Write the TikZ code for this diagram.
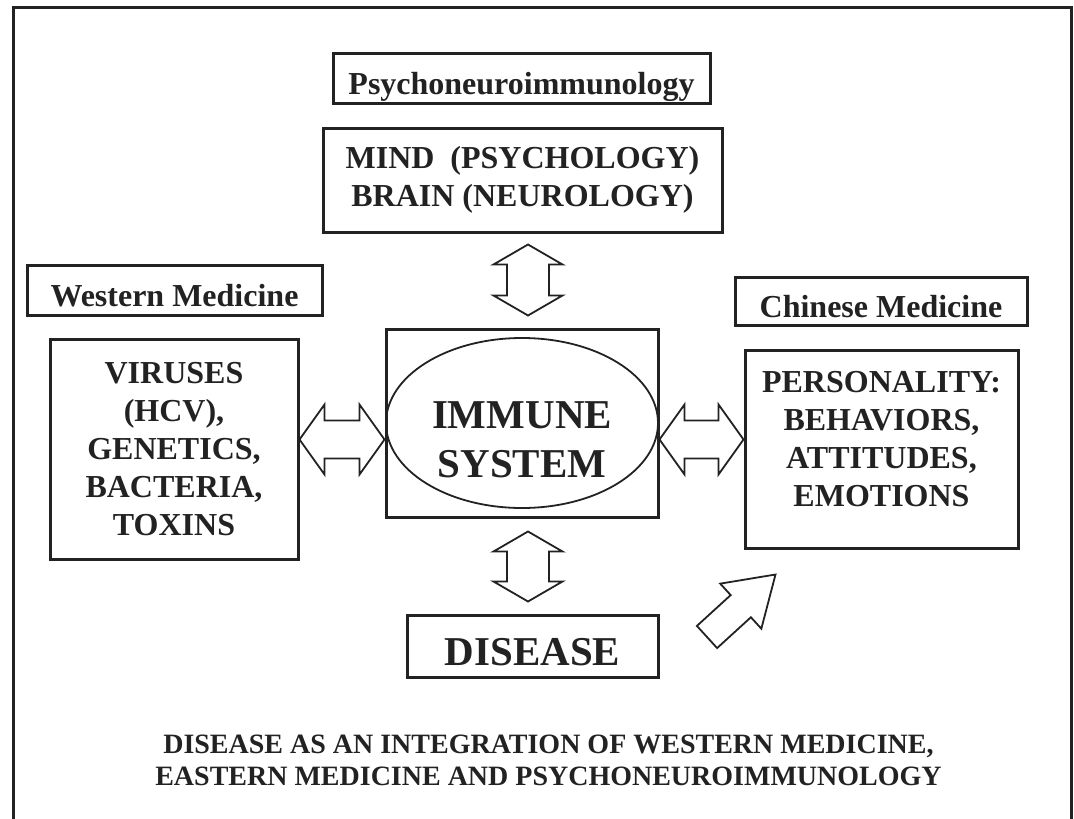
\documentclass[tikz,border=0pt]{standalone}
\usepackage{fontspec}
\setmainfont{Liberation Serif}
\usepackage{xcolor}
\usetikzlibrary{calc,shapes.geometric}

\definecolor{ink}{RGB}{34,34,34}

\begin{document}
\begin{tikzpicture}[
		x=1pt, y=-1pt,
		every node/.style={
			align=center,
			text=ink,
			inner sep=0pt
		},
		box/.style={draw=ink, line width=3pt},
		tag/.style={box, font=\fontsize{32}{37}\selectfont\bfseries, text height=32pt, text depth=0pt},
		list/.style={box, font=\fontsize{32}{38}\selectfont\bfseries},
		big/.style={font=\fontsize{41}{49}\selectfont\bfseries},
		outline/.style={draw=ink, line width=1.8pt, fill=white, line join=miter},
		hollow/.style n args={3}{to path={
			-- ($(\tikztostart)!#1!(\tikztotarget)!#2!90:(\tikztotarget)$)
			-- ($(\tikztostart)!#1!(\tikztotarget)!#3!90:(\tikztotarget)$)
			-- ($(\tikztotarget)!#1!(\tikztostart)!#3!-90:(\tikztostart)$)
			-- ($(\tikztotarget)!#1!(\tikztostart)!#2!-90:(\tikztostart)$)
			-- (\tikztotarget)
			-- ($(\tikztotarget)!#1!(\tikztostart)!#2!90:(\tikztostart)$)
			-- ($(\tikztotarget)!#1!(\tikztostart)!#3!90:(\tikztostart)$)
			-- ($(\tikztostart)!#1!(\tikztotarget)!#3!-90:(\tikztotarget)$)
			-- ($(\tikztostart)!#1!(\tikztotarget)!#2!-90:(\tikztotarget)$)
			-- cycle}},
		hollowone/.style n args={3}{to path={
			-- ($(\tikztostart)!#3!90:(\tikztotarget)$)
			-- ($(\tikztotarget)!#1!(\tikztostart)!#3!-90:(\tikztostart)$)
			-- ($(\tikztotarget)!#1!(\tikztostart)!#2!-90:(\tikztostart)$)
			-- (\tikztotarget)
			-- ($(\tikztotarget)!#1!(\tikztostart)!#2!90:(\tikztostart)$)
			-- ($(\tikztotarget)!#1!(\tikztostart)!#3!90:(\tikztostart)$)
			-- ($(\tikztostart)!#3!-90:(\tikztotarget)$)
			-- cycle}}
		]
		
		\useasboundingbox (0,0) rectangle (1074,819);
		\draw[ink, line width=3pt] (13,819) -- (13,7) -- (1071,7) -- (1071,819);
		
		\node[tag, minimum width=377pt, minimum height=50pt] (pni) at (521.5,78) {Psychoneuroimmunology};
		\node[list, minimum width=399pt, minimum height=104pt] (mind) at (522.5,180) {MIND\ \ (PSYCHOLOGY)\\BRAIN (NEUROLOGY)};
		\node[tag, minimum width=295pt, minimum height=50pt] (westtag) at (174.5,290) {Western Medicine};
		\node[list, minimum width=248pt, minimum height=220pt] (west) at (174,449) {VIRUSES\\(HCV),\\GENETICS,\\BACTERIA,\\TOXINS};
		\node[box, minimum width=272pt, minimum height=188pt] (immune) at (522,423) {};
		\node[draw=ink, line width=1.8pt, ellipse, minimum width=272pt, minimum height=170pt] (cell) at (immune.center) {};
		\node[big] (immunetext) at (522,439.5) {IMMUNE\\SYSTEM};
		\node[tag, minimum width=292pt, minimum height=48pt] (easttag) at (881,301) {Chinese Medicine};
		\node[list, minimum width=273pt, minimum height=198pt, text depth=21pt] (east) at (881.5,449) {PERSONALITY:\\BEHAVIORS,\\ATTITUDES,\\EMOTIONS};
		\node[box, big, minimum width=251pt, minimum height=62pt, text height=38pt, text depth=0pt] (disease) at (532.5,646) {DISEASE};
		\node[font=\fontsize{28}{32}\selectfont\bfseries] (caption) at (548.5,760) {DISEASE AS AN INTEGRATION OF WESTERN MEDICINE,\\EASTERN MEDICINE AND PSYCHONEUROIMMUNOLOGY};
		
		\coordinate (axis) at (528,0);
		\coordinate (up1) at ($(mind.south -| axis)+(0,11)$);
		\coordinate (up2) at ($(immune.north -| axis)+(0,-12)$);
		\coordinate (dn1) at ($(immune.south -| axis)+(0,13)$);
		\coordinate (dn2) at ($(disease.north -| axis)+(0,-12)$);
		\coordinate (tail) at ($(disease.east)+(47.5,-9)$);
		\coordinate (tip) at ($(east.south west)+(32,25)$);
		
		\draw[outline] (west.east |- immunetext) to[hollow={25pt}{35pt}{19pt}] (immune.west |- immunetext);
		\draw[outline] (immune.east |- immunetext) to[hollow={25pt}{35pt}{19pt}] (east.west |- immunetext);
		\draw[outline] (up1) to[hollow={20pt}{34.5pt}{21pt}] (up2);
		\draw[outline] (dn1) to[hollow={20pt}{34.5pt}{21pt}] (dn2);
		\draw[outline] (tail) to[hollowone={47pt}{30.5pt}{15pt}] (tip);
		
	\end{tikzpicture}
\end{document}
